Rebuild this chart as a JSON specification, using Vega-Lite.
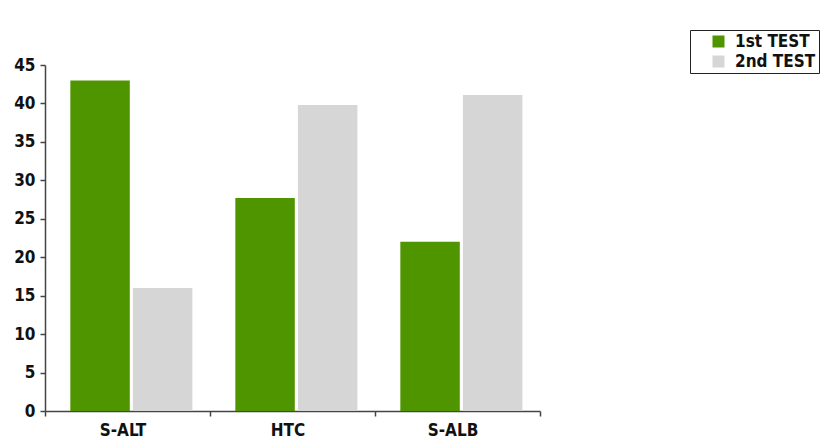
{
  "$schema": "https://vega.github.io/schema/vega-lite/v6.json",
  "width": 495,
  "height": 346,
  "autosize": {"type": "none"},
  "padding": {"left": 45, "top": 65, "right": 281, "bottom": 37},
  "background": "white",
  "data": {
    "values": [
      {"cat": "S-ALT", "test": "1st TEST", "value": 43.0},
      {"cat": "S-ALT", "test": "2nd TEST", "value": 16.0},
      {"cat": "HTC", "test": "1st TEST", "value": 27.7},
      {"cat": "HTC", "test": "2nd TEST", "value": 39.8},
      {"cat": "S-ALB", "test": "1st TEST", "value": 22.0},
      {"cat": "S-ALB", "test": "2nd TEST", "value": 41.1}
    ]
  },
  "mark": {"type": "bar"},
  "encoding": {
    "x": {
      "field": "cat", "type": "nominal", "sort": ["S-ALT", "HTC", "S-ALB"],
      "scale": {"paddingInner": 0, "paddingOuter": 0},
      "axis": {
        "title": null, "labelAngle": 0, "tickBand": "extent", "labelOffset": -5,
        "labelFont": "DejaVu Sans Condensed", "labelFontWeight": "bold", "labelFontSize": 17,
        "labelColor": "#111", "domainColor": "#444", "domainWidth": 1.5,
        "tickColor": "#444", "tickWidth": 1.5, "tickSize": 5, "labelPadding": 6
      }
    },
    "xOffset": {"field": "test", "type": "nominal", "scale": {"paddingInner": 0.05, "paddingOuter": 0.343, "align": 0.59}},
    "y": {
      "field": "value", "type": "quantitative",
      "scale": {"domain": [0, 45], "nice": false},
      "axis": {
        "title": null, "values": [0, 5, 10, 15, 20, 25, 30, 35, 40, 45], "grid": false,
        "labelFont": "DejaVu Sans Condensed", "labelFontWeight": "bold", "labelFontSize": 17,
        "labelColor": "#111", "domainColor": "#444", "domainWidth": 1.5,
        "tickColor": "#444", "tickWidth": 1.5, "tickSize": 5, "labelPadding": 5
      }
    },
    "color": {
      "field": "test", "type": "nominal",
      "scale": {"domain": ["1st TEST", "2nd TEST"], "range": ["#4E9500", "#D6D6D6"]},
      "legend": {
        "title": null, "orient": "none", "legendX": 645, "legendY": -35,
        "symbolType": "square", "symbolSize": 144, "symbolStrokeWidth": 0, "symbolOffset": 17,
        "labelFont": "DejaVu Sans Condensed", "labelFontWeight": "bold", "labelFontSize": 17,
        "labelColor": "#111", "strokeColor": "#222", "padding": 3, "rowPadding": 2,
        "labelOffset": 8
      }
    }
  },
  "config": {"view": {"stroke": null}}
}
